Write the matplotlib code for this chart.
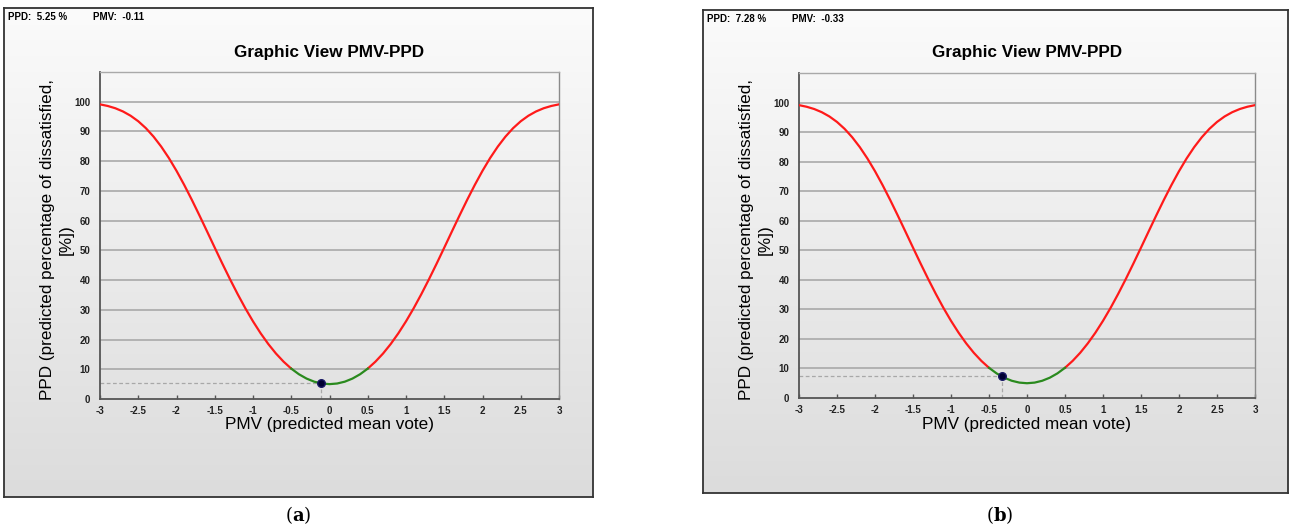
import numpy as np
import matplotlib
matplotlib.use("Agg")
import matplotlib.pyplot as plt
from matplotlib.colors import LinearSegmentedColormap

plt.rcParams["mathtext.fontset"] = "dejavuserif"

# ---- data ----
pmv_values = [-3.0, -2.9, -2.8, -2.7, -2.6, -2.5, -2.4, -2.3, -2.2, -2.1,
              -2.0, -1.9, -1.8, -1.7, -1.6, -1.5, -1.4, -1.3, -1.2, -1.1,
              -1.0, -0.9, -0.8, -0.7, -0.6, -0.5, -0.4, -0.3, -0.2, -0.1,
              0.0, 0.1, 0.2, 0.3, 0.4, 0.5, 0.6, 0.7, 0.8, 0.9,
              1.0, 1.1, 1.2, 1.3, 1.4, 1.5, 1.6, 1.7, 1.8, 1.9,
              2.0, 2.1, 2.2, 2.3, 2.4, 2.5, 2.6, 2.7, 2.8, 2.9, 3.0]
ppd_values = [99.12, 98.58, 97.81, 96.73, 95.29, 93.43, 91.10, 88.26, 84.91, 81.07,
              76.76, 72.05, 67.02, 61.75, 56.35, 50.90, 45.51, 40.27, 35.25, 30.51,
              26.12, 22.10, 18.49, 15.30, 12.55, 10.22, 8.33, 6.87, 5.83, 5.21,
              5.00, 5.21, 5.83, 6.87, 8.33, 10.22, 12.55, 15.30, 18.49, 22.10,
              26.12, 30.51, 35.25, 40.27, 45.51, 50.90, 56.35, 61.75, 67.02, 72.05,
              76.76, 81.07, 84.91, 88.26, 91.10, 93.43, 95.29, 96.73, 97.81, 98.58, 99.12]
comfort_limit = 0.5
x_ticks = [-3, -2.5, -2, -1.5, -1, -0.5, 0, 0.5, 1, 1.5, 2, 2.5, 3]
x_tick_labels = ["-3", "-2.5", "-2", "-1.5", "-1", "-0.5", "0", "0.5", "1", "1.5", "2", "2.5", "3"]
y_ticks = [0, 10, 20, 30, 40, 50, 60, 70, 80, 90, 100]
panel_letters = ["a", "b"]
point_pmv = [-0.11, -0.33]
point_ppd = [5.25, 7.28]
header_ppd = ["5.25 %", "7.28 %"]
header_pmv = ["-0.11", "-0.33"]

W, H = 1296, 528
fig = plt.figure(figsize=(W / 100, H / 100), dpi=100)
fig.patch.set_facecolor("white")

def frac(x0, y0, x1, y1):
    return [x0 / W, 1 - y1 / H, (x1 - x0) / W, (y1 - y0) / H]

panel_boxes = [(4, 8, 593, 497), (703, 10, 1288, 493)]
plot_boxes = [(100, 72, 559, 399), (799, 73, 1255, 398)]
letter_x = [298, 1000]

pmv = np.array(pmv_values)
ppd = np.array(ppd_values)
green_mask = np.abs(pmv) <= comfort_limit + 1e-9
left_mask = pmv <= -comfort_limit + 1e-9
right_mask = pmv >= comfort_limit - 1e-9

grad = np.linspace(0, 1, 256).reshape(-1, 1)
bg_cmap = LinearSegmentedColormap.from_list("bg", ["#fbfbfb", "#dcdcdc"])
font = "Liberation Sans"

for i in range(2):
    px0, py0, px1, py1 = panel_boxes[i]
    bax = fig.add_axes(frac(px0, py0, px1, py1))
    bax.imshow(grad, aspect="auto", cmap=bg_cmap, extent=[0, 1, 0, 1], origin="upper")
    bax.set_xlim(0, 1); bax.set_ylim(0, 1)
    bax.set_xticks([]); bax.set_yticks([])
    for s in bax.spines.values():
        s.set_color("#333333"); s.set_linewidth(1.3)

    # header
    fig.text((px0 + 4) / W, 1 - (py0 + 9) / H, "PPD:  " + header_ppd[i], fontsize=7,
             fontweight="bold", family=font, va="center", ha="left")
    fig.text((px0 + 89) / W, 1 - (py0 + 9) / H, "PMV:  " + header_pmv[i], fontsize=7,
             fontweight="bold", family=font, va="center", ha="left")

    ax0, ay0, ax1, ay1 = plot_boxes[i]
    ax = fig.add_axes(frac(ax0, ay0, ax1, ay1))
    ax.patch.set_alpha(0)
    ax.set_xlim(-3, 3)
    ax.set_ylim(0, 110)
    for y in y_ticks[1:]:
        ax.axhline(y, color="#a9a9a9", lw=1.2, zorder=1)
    ax.plot(pmv[left_mask], ppd[left_mask], color="#ff1a1a", lw=1.6, zorder=3)
    ax.plot(pmv[right_mask], ppd[right_mask], color="#ff1a1a", lw=1.6, zorder=3)
    ax.plot(pmv[green_mask], ppd[green_mask], color="#2a8a1e", lw=1.6, zorder=3)
    ax.plot([-3, point_pmv[i]], [point_ppd[i], point_ppd[i]], color="#a8a8a8",
            lw=0.9, ls=(0, (3, 2)), zorder=2)
    ax.plot([point_pmv[i], point_pmv[i]], [0, point_ppd[i]], color="#a8a8a8",
            lw=0.9, ls=(0, (3, 2)), zorder=2)
    ax.plot(point_pmv[i], point_ppd[i], "o", color="#000033", ms=5.5,
            markeredgecolor="#1a1a66", zorder=5)

    ax.set_xticks(x_ticks)
    ax.set_xticklabels(x_tick_labels)
    ax.set_yticks(y_ticks)
    ax.tick_params(axis="x", direction="in", length=3, width=1, color="#555555",
                   labelsize=7, pad=5, labelcolor="#222222")
    ax.tick_params(axis="y", length=0, labelsize=7, pad=7, labelcolor="#222222")
    for lab in ax.get_xticklabels() + ax.get_yticklabels():
        lab.set_fontweight("bold"); lab.set_family(font)
    ax.spines["left"].set_color("#555555"); ax.spines["left"].set_linewidth(1.3)
    ax.spines["bottom"].set_color("#555555"); ax.spines["bottom"].set_linewidth(1.3)
    ax.spines["top"].set_color("#a9a9a9"); ax.spines["top"].set_linewidth(1.0)
    ax.spines["right"].set_color("#8a8a8a"); ax.spines["right"].set_linewidth(1.0)

    cx = (ax0 + ax1) / 2
    fig.text(cx / W, 1 - 52 / H, "Graphic View PMV-PPD", fontsize=12.3,
             fontweight="bold", family=font, ha="center", va="center")
    fig.text(cx / W, 1 - 424 / H, "PMV (predicted mean vote)", fontsize=12.3,
             family=font, ha="center", va="center")
    fig.text((ax0 - 43) / W, 1 - 240 / H, "PPD (predicted percentage of dissatisfied,\n[%])",
             fontsize=12.3, family=font, ha="center", va="center",
             rotation=90, multialignment="center", linespacing=1.25)

    fig.text(letter_x[i] / W, 1 - 515 / H, "(" + r"$\mathbf{" + panel_letters[i] + "}$" + ")",
             fontsize=13, family="DejaVu Serif", ha="center", va="center")

fig.savefig("out.png", dpi=100)
